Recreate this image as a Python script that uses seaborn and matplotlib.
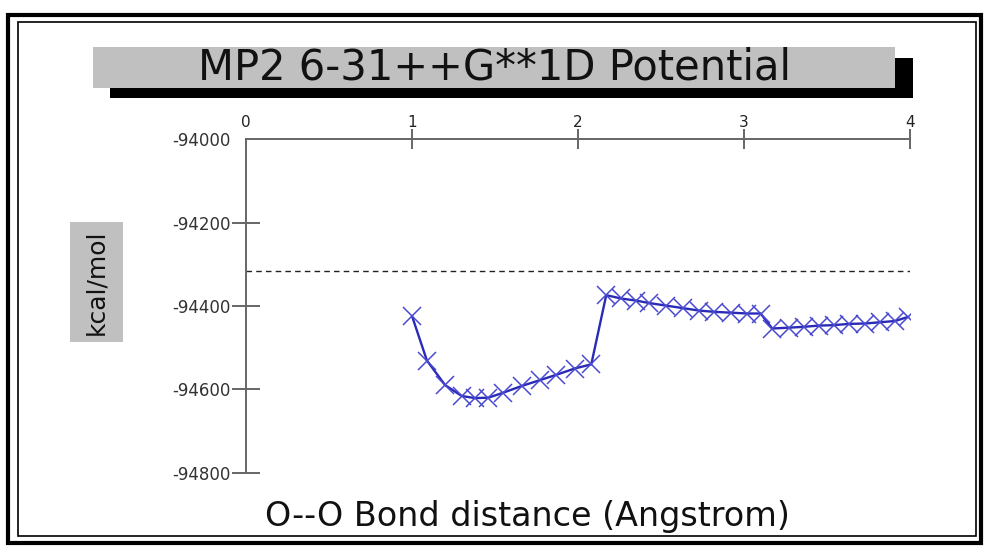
import numpy as np
import pandas as pd
import matplotlib
matplotlib.use("Agg")
import matplotlib.pyplot as plt
from matplotlib.patches import Rectangle
from matplotlib import font_manager
import seaborn as sns

# ── Data ───────────────────────────────────────────────────────────────────────

distance = [1.00, 1.09, 1.20, 1.30, 1.38, 1.46, 1.55, 1.66, 1.77, 1.87, 1.98, 2.08,
            2.17, 2.26, 2.35, 2.43, 2.53, 2.63, 2.73, 2.82, 2.92, 3.02, 3.10,
            3.17, 3.27, 3.36, 3.45, 3.54, 3.63, 3.73, 3.82, 3.91, 3.99]
energy = [-94424, -94531, -94590, -94616, -94621, -94620, -94608, -94592, -94578,
          -94565, -94550, -94540,
          -94374, -94382, -94387, -94393, -94399, -94405, -94411, -94414, -94416,
          -94418, -94418,
          -94454, -94452, -94450, -94447, -94446, -94443, -94442, -94439, -94436,
          -94426]
reference_level = -94316

x_ticks = [0, 1, 2, 3, 4]
y_ticks = [-94800, -94600, -94400, -94200, -94000]

title = "MP2 6-31++G**1D Potential"
x_label = "O--O Bond distance (Angstrom)"
y_label = "kcal/mol"

df = pd.DataFrame({"distance": distance, "energy": energy})

# ── Figure setup ───────────────────────────────────────────────────────────────

sns.set_style("white")
plt.rcParams['font.family'] = ['DejaVu Sans']

W, H = 984, 550
fig = plt.figure(figsize=(W / 100, H / 100), dpi=100)


def fx(px):
    return px / W


def fy(py):
    return 1 - py / H


def frect(x0, y0, x1, y1, **kw):
    # rectangle given in pixels from the top-left corner
    r = Rectangle((fx(x0), fy(y1)), fx(x1) - fx(x0), fy(y0) - fy(y1),
                  transform=fig.transFigure, zorder=-1, **kw)
    fig.add_artist(r)
    return r


# double frame
frect(8, 15, 981, 543, fill=False, edgecolor='black', linewidth=3.0)
frect(18, 22, 976, 536, fill=False, edgecolor='black', linewidth=1.2)

# title box with drop shadow
frect(110, 58, 913, 98, facecolor='black', edgecolor='none')
frect(93, 47, 895, 88, facecolor='#c0c0c0', edgecolor='none')
fig.text(fx(494), fy(68), title, ha='center', va='center',
         fontsize=30, color='#111111')

# y label box
frect(70, 222, 123, 342, facecolor='#c0c0c0', edgecolor='none')
names = {f.name for f in font_manager.fontManager.ttflist}
if 'Liberation Sans Narrow' in names:
    yl_font, yl_size = 'Liberation Sans Narrow', 23
else:
    yl_font, yl_size = 'DejaVu Sans', 18

# ── Axes ───────────────────────────────────────────────────────────────────────

ax = fig.add_axes([fx(246), fy(472.7), fx(910) - fx(246), fy(139.3) - fy(472.7)])
ax.set_facecolor('none')

ax.axhline(reference_level, color='#222222', linewidth=1.0,
           linestyle=(0, (4, 3)), zorder=1)

sns.lineplot(data=df, x='distance', y='energy', ax=ax, sort=False,
             color='#2a2ab8', linewidth=1.7, marker='x', markersize=13,
             markeredgewidth=1.1, markeredgecolor='#4a4ad0', zorder=3)

ax.set_xlim(0, 4)
ax.set_ylim(-94800, -94000)
ax.set_xticks(x_ticks)
ax.set_yticks(y_ticks)
ax.set_xticklabels([str(t) for t in x_ticks])
ax.set_yticklabels([str(t) for t in y_ticks])

ax.xaxis.set_ticks_position('top')
for side in ['right', 'bottom']:
    ax.spines[side].set_visible(False)
for side in ['top', 'left']:
    ax.spines[side].set_color('#666666')
    ax.spines[side].set_linewidth(1.4)

ax.tick_params(axis='x', direction='inout', length=14, width=1.4, top=True,
               color='#666666', labelsize=11, labelcolor='#222222', pad=0)
ax.tick_params(axis='y', direction='inout', length=20, width=1.4, left=True,
               color='#666666', labelsize=12, labelcolor='#333333', pad=1)
ax.xaxis.get_major_ticks()[0].tick2line.set_visible(False)
ax.yaxis.get_major_ticks()[-1].tick1line.set_visible(False)

ax.set_xlabel(x_label, fontsize=24, color='#111111')
ax.xaxis.set_label_position('bottom')
ax.xaxis.set_label_coords((527 - 246) / 664, -(500 - 472.7) / 333.4)

ax.set_ylabel(y_label, fontsize=yl_size, family=yl_font, color='#111111',
              ha='center', va='center')
ax.yaxis.set_label_coords((96.5 - 246) / 664, (472.7 - 282) / 333.4)

fig.savefig('out.png', dpi=100)
